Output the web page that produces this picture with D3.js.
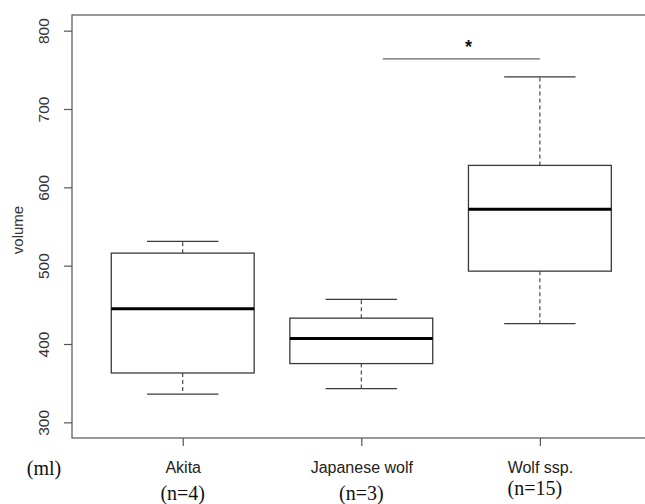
<!DOCTYPE html>
<html>
<head>
<meta charset="utf-8">
<script src="https://cdn.jsdelivr.net/npm/d3@7/dist/d3.min.js"></script>
<style>
  html, body { margin: 0; padding: 0; background: #fff; }
  svg { display: block; }
</style>
</head>
<body>
<svg id="chart" width="645" height="504"></svg>
<script>
// Groups and their five-number summaries (ml)
const groups = ["Akita", "Japanese wolf", "Wolf ssp."];
const sampleSizes = ["(n=4)", "(n=3)", "(n=15)"];
const lowerWhisker = [336, 343, 426];
const q1 = [363, 375, 493];
const median = [445, 407, 572];
const q3 = [516, 433, 628];
const upperWhisker = [531, 457, 741];
const yTicks = [300, 400, 500, 600, 700, 800];

// Significance bracket between Japanese wolf and Wolf ssp.
const bracket = { from: 2.12, to: 3.0, value: 764, label: "*" };

const svg = d3.select("#chart");

// Group positions 1..n, with the usual 4% padding around 0.5..n+0.5
const x = d3.scaleLinear().domain([0.38, 3.62]).range([72, 650.6]);
const y = d3.scaleLinear().domain([280, 820]).range([438, 15]);

const frameColor = "#555";
const boxColor = "#3a3a3a";
const boxHalf = 0.4, capHalf = 0.2;

// Plot frame
svg.append("rect")
  .attr("x", x(0.38)).attr("y", y(820))
  .attr("width", x(3.62) - x(0.38)).attr("height", y(280) - y(820))
  .attr("fill", "none").attr("stroke", frameColor).attr("stroke-width", 1.2);

// Y axis
const yAxis = svg.append("g")
  .attr("transform", `translate(${x(0.38)},0)`)
  .call(d3.axisLeft(y).tickValues(yTicks).tickSize(8).tickPadding(0).tickFormat(d3.format("d")));
yAxis.select(".domain").remove();
yAxis.selectAll(".tick line").attr("stroke", frameColor).attr("stroke-width", 1.2);
yAxis.selectAll(".tick text")
  .attr("transform", "translate(-28,0) rotate(-90)")
  .attr("x", 0).attr("dy", "0.35em")
  .attr("text-anchor", "middle")
  .attr("fill", "#333")
  .style("font-family", "Liberation Sans, Arial, sans-serif")
  .style("font-size", "15.5px");

// X axis
const xAxis = svg.append("g")
  .attr("transform", `translate(0,${y(280)})`)
  .call(d3.axisBottom(x).tickValues([1, 2, 3]).tickSize(8).tickPadding(0)
    .tickFormat((d) => groups[d - 1]));
xAxis.select(".domain").remove();
xAxis.selectAll(".tick line").attr("stroke", frameColor).attr("stroke-width", 1.2);
xAxis.selectAll(".tick text")
  .attr("y", 35).attr("dy", 0)
  .attr("fill", "#222")
  .style("font-family", "Liberation Sans, Arial, sans-serif")
  .style("font-size", "16px");

// Sample sizes beneath the group names
const nOffsets = [0, 0, -5];
svg.append("g").selectAll("text").data(sampleSizes).join("text")
  .attr("x", (d, i) => x(i + 1) - (i === 2 ? 5 : 0))
  .attr("y", (d, i) => 500 + nOffsets[i])
  .attr("text-anchor", "middle")
  .attr("fill", "#111")
  .style("font-family", "Liberation Serif, Times New Roman, serif")
  .style("font-size", "20px")
  .text((d) => d);

// Unit label and axis title
svg.append("text")
  .attr("x", 44).attr("y", 475).attr("text-anchor", "middle")
  .attr("fill", "#111")
  .style("font-family", "Liberation Serif, Times New Roman, serif")
  .style("font-size", "20px")
  .text("(ml)");

svg.append("text")
  .attr("transform", "translate(18,230) rotate(-90)")
  .attr("text-anchor", "middle").attr("dy", "0.35em")
  .attr("fill", "#333")
  .style("font-family", "Liberation Sans, Arial, sans-serif")
  .style("font-size", "15px")
  .text("volume");

// Boxplots
const data = groups.map((g, i) => ({
  pos: i + 1, lo: lowerWhisker[i], q1: q1[i], med: median[i], q3: q3[i], hi: upperWhisker[i]
}));

const boxes = svg.append("g").selectAll("g").data(data).join("g");

// Whiskers (dashed)
boxes.append("line")
  .attr("x1", (d) => x(d.pos)).attr("x2", (d) => x(d.pos))
  .attr("y1", (d) => y(d.q3)).attr("y2", (d) => y(d.hi))
  .attr("stroke", boxColor).attr("stroke-width", 1.1).attr("stroke-dasharray", "4,3");
boxes.append("line")
  .attr("x1", (d) => x(d.pos)).attr("x2", (d) => x(d.pos))
  .attr("y1", (d) => y(d.q1)).attr("y2", (d) => y(d.lo))
  .attr("stroke", boxColor).attr("stroke-width", 1.1).attr("stroke-dasharray", "4,3");

// Staples
boxes.append("line")
  .attr("x1", (d) => x(d.pos - capHalf)).attr("x2", (d) => x(d.pos + capHalf))
  .attr("y1", (d) => y(d.hi)).attr("y2", (d) => y(d.hi))
  .attr("stroke", boxColor).attr("stroke-width", 1.3);
boxes.append("line")
  .attr("x1", (d) => x(d.pos - capHalf)).attr("x2", (d) => x(d.pos + capHalf))
  .attr("y1", (d) => y(d.lo)).attr("y2", (d) => y(d.lo))
  .attr("stroke", boxColor).attr("stroke-width", 1.3);

// Interquartile boxes
boxes.append("rect")
  .attr("x", (d) => x(d.pos - boxHalf))
  .attr("y", (d) => y(d.q3))
  .attr("width", (d) => x(d.pos + boxHalf) - x(d.pos - boxHalf))
  .attr("height", (d) => y(d.q1) - y(d.q3))
  .attr("fill", "#fff").attr("stroke", boxColor).attr("stroke-width", 1.3);

// Medians
boxes.append("line")
  .attr("x1", (d) => x(d.pos - boxHalf)).attr("x2", (d) => x(d.pos + boxHalf))
  .attr("y1", (d) => y(d.med)).attr("y2", (d) => y(d.med))
  .attr("stroke", "#000").attr("stroke-width", 3.2);

// Significance bracket
svg.append("line")
  .attr("x1", x(bracket.from)).attr("x2", x(bracket.to))
  .attr("y1", y(bracket.value)).attr("y2", y(bracket.value))
  .attr("stroke", "#666").attr("stroke-width", 1.2);
svg.append("text")
  .attr("x", x(2.6)).attr("y", y(bracket.value) - 6)
  .attr("text-anchor", "middle")
  .attr("fill", "#111")
  .style("font-family", "Liberation Sans, Arial, sans-serif")
  .style("font-size", "18px").style("font-weight", "bold")
  .text(bracket.label);
</script>
</body>
</html>
